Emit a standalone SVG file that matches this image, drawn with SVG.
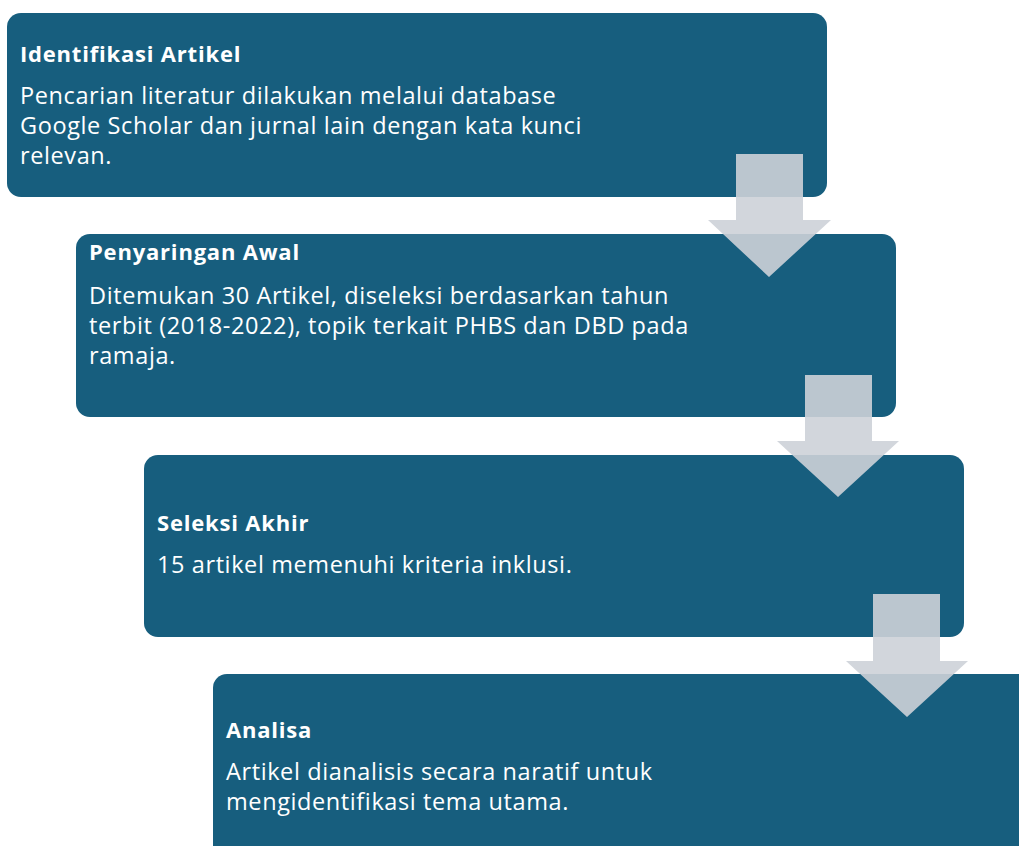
<svg xmlns="http://www.w3.org/2000/svg" width="1019" height="846" viewBox="0 0 1019 846">
<style>
.box{fill:#175E7E}
.t{font-family:"Open Sans","Liberation Sans",Arial,sans-serif;font-weight:bold;font-size:22px;letter-spacing:0.8px;fill:#FFFFFF}
.b{font-family:"Open Sans","Liberation Sans",Arial,sans-serif;font-size:23.5px;letter-spacing:0.6px;fill:#FFFFFF}
.arr{fill:#CDD1D8;fill-opacity:0.9}
</style>
<rect width="1019" height="846" fill="#FFFFFF"/>
<g id="node1">
<rect class="box" x="7" y="13" width="820" height="184" rx="14"/>
<text class="t" x="20" y="62">Identifikasi Artikel</text>
<text class="b" x="20" y="104">Pencarian literatur dilakukan melalui database</text>
<text class="b" x="20" y="134">Google Scholar dan jurnal lain dengan kata kunci</text>
<text class="b" x="20" y="164">relevan.</text>
</g>
<g id="node2">
<rect class="box" x="76" y="234" width="820" height="183" rx="14"/>
<text class="t" x="89" y="260">Penyaringan Awal</text>
<text class="b" x="89" y="304">Ditemukan 30 Artikel, diseleksi berdasarkan tahun</text>
<text class="b" x="89" y="334">terbit (2018-2022), topik terkait PHBS dan DBD pada</text>
<text class="b" x="89" y="364">ramaja.</text>
</g>
<g id="node3">
<rect class="box" x="144" y="455" width="820" height="182" rx="14"/>
<text class="t" x="157" y="531">Seleksi Akhir</text>
<text class="b" x="157" y="573">15 artikel memenuhi kriteria inklusi.</text>
</g>
<g id="node4">
<rect class="box" x="213" y="674" width="830" height="200" rx="14"/>
<text class="t" x="226" y="738">Analisa</text>
<text class="b" x="226" y="780">Artikel dianalisis secara naratif untuk</text>
<text class="b" x="226" y="810">mengidentifikasi tema utama.</text>
</g>
<g id="connectors">
<polygon class="arr" points="736,154 803,154 803,220 831,220 769,277 708,220 736,220"/>
<polygon class="arr" points="805,375 872,375 872,441 899,441 838,497 777,441 805,441"/>
<polygon class="arr" points="873,594 940,594 940,661 968,661 907,717 846,661 873,661"/>
</g>
</svg>
